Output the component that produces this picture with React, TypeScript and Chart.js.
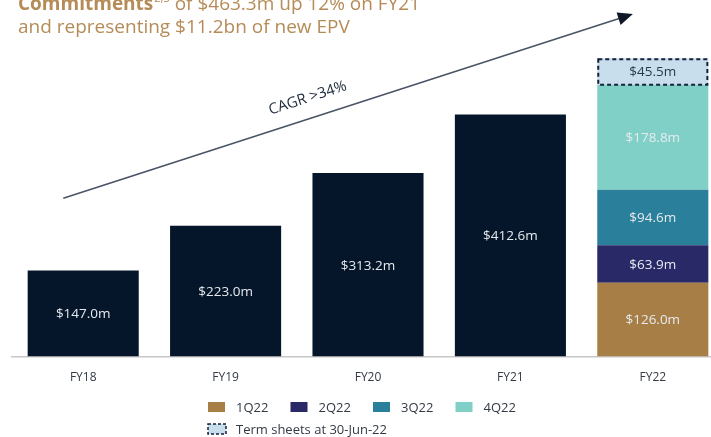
import React, { useEffect, useRef } from "react";
import { Chart, registerables } from "chart.js";

Chart.register(...registerables);

const categories = ["FY18", "FY19", "FY20", "FY21", "FY22"];
const historicValues = [147.0, 223.0, 313.2, 412.6, null];
const q1Values = [null, null, null, null, 126.0];
const q2Values = [null, null, null, null, 63.9];
const q3Values = [null, null, null, null, 94.6];
const q4Values = [null, null, null, null, 178.8];
const termSheetValues = [null, null, null, null, 45.5];
const quarterLabels = ["1Q22", "2Q22", "3Q22", "4Q22"];
const termSheetLabel = "Term sheets at 30-Jun-22";
const titleBold = "Commitments";
const titleSup = "2,3";
const titleRest = " of $463.3m up 12% on FY21";
const titleLine2 = "and representing $11.2bn of new EPV";
const cagrLabel = "CAGR >34%";
// arrow endpoints in data space (category index, value)
const arrowFrom = [-0.14, 270];
const arrowTo = [3.86, 584];

const FONT = "'Open Sans', 'DejaVu Sans', sans-serif";
const DARK = "#06162a";
const C1 = "#a87e47";
const C2 = "#2a2968";
const C3 = "#2a7f9b";
const C4 = "#80d0c8";
const CT = "#c8deec";
const GOLD = "#b58c57";

const fmt = (v: number) => "$" + v.toFixed(1) + "m";

const overlayPlugin = {
  id: "overlay",
  afterDatasetsDraw(chart: any) {
    const ctx = chart.ctx;
    ctx.save();
    chart.data.datasets.forEach((ds: any, di: number) => {
      const meta = chart.getDatasetMeta(di);
      meta.data.forEach((el: any, i: number) => {
        const v = ds.data[i];
        if (v == null) return;
        const top = el.y;
        const base = el.base;
        const cy = (top + base) / 2;
        if (ds.isTermSheet) {
          ctx.save();
          ctx.setLineDash([4, 3]);
          ctx.lineWidth = 2;
          ctx.strokeStyle = "#17213a";
          ctx.strokeRect(el.x - el.width / 2 + 1, top + 1, el.width - 2, base - top - 1);
          ctx.restore();
        }
        ctx.font = `13.5px ${FONT}`;
        ctx.textAlign = "center";
        ctx.textBaseline = "middle";
        ctx.fillStyle = ds.isTermSheet ? "#2a3a4c" : "#e6eaef";
        ctx.fillText(fmt(v), el.x, cy + 1);
      });
    });
    ctx.restore();
  },
  afterDraw(chart: any) {
    const ctx = chart.ctx;
    const xs = chart.scales.x;
    const ys = chart.scales.y;
    ctx.save();
    // arrow
    const x0 = xs.getPixelForValue(arrowFrom[0]);
    const y0 = ys.getPixelForValue(arrowFrom[1]);
    const x1 = xs.getPixelForValue(arrowTo[0]);
    const y1 = ys.getPixelForValue(arrowTo[1]);
    const ang = Math.atan2(y1 - y0, x1 - x0);
    const headLen = 15;
    const headW = 6.5;
    ctx.strokeStyle = "#4a5466";
    ctx.lineWidth = 1.6;
    ctx.beginPath();
    ctx.moveTo(x0, y0);
    ctx.lineTo(x1 - Math.cos(ang) * headLen * 0.8, y1 - Math.sin(ang) * headLen * 0.8);
    ctx.stroke();
    ctx.fillStyle = "#101828";
    ctx.beginPath();
    ctx.moveTo(x1, y1);
    const bx = x1 - Math.cos(ang) * headLen;
    const by = y1 - Math.sin(ang) * headLen;
    ctx.lineTo(bx + Math.sin(ang) * headW, by - Math.cos(ang) * headW);
    ctx.lineTo(bx - Math.sin(ang) * headW, by + Math.cos(ang) * headW);
    ctx.closePath();
    ctx.fill();
    // CAGR label
    const t = 0.44;
    const mx = x0 + (x1 - x0) * t;
    const my = y0 + (y1 - y0) * t;
    ctx.save();
    ctx.translate(mx + Math.sin(ang) * 20, my - Math.cos(ang) * 20);
    ctx.rotate(ang);
    ctx.font = `15px ${FONT}`;
    ctx.fillStyle = "#1e2a3c";
    ctx.textAlign = "center";
    ctx.textBaseline = "middle";
    ctx.fillText(cagrLabel, 0, 0);
    ctx.restore();

    // title
    ctx.fillStyle = GOLD;
    ctx.textAlign = "left";
    ctx.textBaseline = "alphabetic";
    let tx = 18;
    ctx.font = `bold 19px ${FONT}`;
    ctx.fillText(titleBold, tx, 10);
    tx += ctx.measureText(titleBold).width + 1;
    ctx.font = `11px ${FONT}`;
    ctx.fillText(titleSup, tx, 2);
    tx += ctx.measureText(titleSup).width;
    ctx.font = `19px ${FONT}`;
    ctx.fillText(titleRest, tx, 10);
    ctx.fillText(titleLine2, 18, 33);

    // legend
    const ds = chart.data.datasets;
    ctx.font = `13px ${FONT}`;
    ctx.textBaseline = "middle";
    const ly = 407;
    const quarterSets = ds.filter((d: any) => d.isQuarter);
    quarterSets.forEach((d: any, i: number) => {
      const bx0 = 208 + i * 82.5;
      ctx.fillStyle = d.backgroundColor;
      ctx.fillRect(bx0, ly - 5, 17, 10);
      ctx.fillStyle = "#333a44";
      ctx.fillText(d.label, bx0 + 28, ly + 1);
    });
    const ts = ds.find((d: any) => d.isTermSheet);
    const ly2 = 429;
    ctx.fillStyle = ts.backgroundColor;
    ctx.fillRect(208, ly2 - 5, 18, 10);
    ctx.save();
    ctx.setLineDash([3, 2]);
    ctx.lineWidth = 1.5;
    ctx.strokeStyle = "#17213a";
    ctx.strokeRect(208, ly2 - 5, 18, 10);
    ctx.restore();
    ctx.fillStyle = "#333a44";
    ctx.fillText(ts.label, 236, ly2 + 1);
    ctx.restore();
  },
};

export default function App() {
  const ref = useRef<HTMLCanvasElement | null>(null);
  useEffect(() => {
    if (!ref.current) return;
    const chart = new Chart(ref.current, {
      type: "bar",
      data: {
        labels: categories,
        datasets: [
          { label: "Commitments", data: historicValues, backgroundColor: DARK },
          { label: quarterLabels[0], data: q1Values, backgroundColor: C1, isQuarter: true },
          { label: quarterLabels[1], data: q2Values, backgroundColor: C2, isQuarter: true },
          { label: quarterLabels[2], data: q3Values, backgroundColor: C3, isQuarter: true },
          { label: quarterLabels[3], data: q4Values, backgroundColor: C4, isQuarter: true },
          { label: termSheetLabel, data: termSheetValues, backgroundColor: CT, isTermSheet: true },
        ] as any,
      },
      options: {
        responsive: false,
        animation: false,
        layout: { padding: { left: 12, right: 0, top: 0, bottom: 38 } },
        datasets: { bar: { barPercentage: 0.78, categoryPercentage: 1 } },
        plugins: { legend: { display: false }, tooltip: { enabled: false }, title: { display: false } },
        scales: {
          x: {
            stacked: true,
            grid: { display: false, drawTicks: false },
            border: { display: true, color: "#c8c8c8", width: 1.5 },
            ticks: { padding: 14, color: "#333a44", font: { family: FONT, size: 12 } },
          },
          y: { stacked: true, display: false, min: 0, max: 608 },
        },
      } as any,
      plugins: [overlayPlugin],
    });
    return () => chart.destroy();
  }, []);
  return (
    <div style={{ position: "fixed", left: 0, top: 0, width: 724, height: 437, background: "#fff" }}>
      <canvas ref={ref} width={724} height={437} />
    </div>
  );
}
